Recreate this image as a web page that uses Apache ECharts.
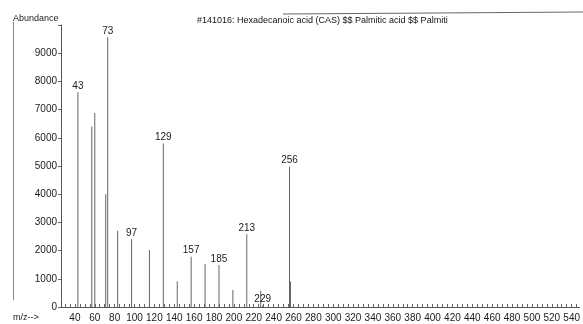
<!DOCTYPE html>
<html>
<head>
<meta charset="utf-8">
<script src="https://cdn.jsdelivr.net/npm/echarts@6/dist/echarts.min.js"></script>
<style>html,body{margin:0;padding:0;background:#fff;}#c{width:583px;height:324px;}</style>
</head>
<body>
<div id="c"></div>
<script>
const mz = [43, 57, 60, 71, 73, 83, 97, 115, 129, 143, 157, 171, 185, 199, 213, 227, 229, 256, 257];
const abundance = [7620, 6400, 6880, 4000, 9570, 2700, 2410, 2020, 5800, 900, 1785, 1525, 1490, 600, 2580, 580, 50, 4975, 900];
const labeledMz = [43, 73, 97, 129, 157, 185, 213, 229, 256];
const xTickLabels = [40, 60, 80, 100, 120, 140, 160, 180, 200, 220, 240, 260, 280, 300, 320, 340, 360, 380, 400, 420, 440, 460, 480, 500, 520, 540];
const yTickLabels = [0, 1000, 2000, 3000, 4000, 5000, 6000, 7000, 8000, 9000];
const titleText = '#141016: Hexadecanoic acid (CAS) $$ Palmitic acid $$ Palmiti';

const minorTicks = [];
for (let v = 30; v <= 545; v += 5) minorTicks.push(v);

const chart = echarts.init(document.getElementById('c'));
const FONT = '"Liberation Sans", Arial, sans-serif';
const TXT = '#1a1a1a';
const barData = mz.map((m, i) => ({
  value: [m, abundance[i]],
  label: { show: labeledMz.indexOf(m) >= 0 }
}));

chart.setOption({
  animation: false,
  backgroundColor: '#fff',
  grid: { left: 61, right: 0, top: 25, bottom: 17, containLabel: false },
  xAxis: {
    type: 'value', min: 26, max: 548,
    axisLine: { show: true, lineStyle: { color: '#555', width: 1 } },
    axisTick: { show: true, inside: true, length: 3, customValues: minorTicks, lineStyle: { color: '#666' } },
    axisLabel: { customValues: xTickLabels, color: TXT, fontSize: 10, fontFamily: FONT, margin: 6 },
    splitLine: { show: false }
  },
  yAxis: {
    type: 'value', min: 0, max: 10000, interval: 1000,
    axisLine: { show: true, lineStyle: { color: '#555', width: 1 } },
    axisTick: { show: true, length: 3, lineStyle: { color: '#666' } },
    axisLabel: {
      color: TXT, fontSize: 10, fontFamily: FONT, margin: 4,
      formatter: v => (yTickLabels.indexOf(v) >= 0 ? String(v) : '')
    },
    splitLine: { show: false }
  },
  series: [{
    type: 'bar',
    barWidth: 1,
    itemStyle: { color: '#666' },
    label: {
      position: 'top', distance: 1, color: TXT, fontSize: 10, fontFamily: FONT,
      formatter: p => String(p.value[0])
    },
    data: barData
  }],
  graphic: [
    { type: 'text', left: 13, top: 14, style: { text: 'Abundance', fontSize: 9, fontFamily: FONT, fill: TXT } },
    { type: 'text', left: 197, top: 16, style: { text: titleText, fontSize: 9, fontFamily: FONT, fill: '#111' } },
    { type: 'text', left: 13, top: 313, style: { text: 'm/z-->', fontSize: 9, fontFamily: FONT, fill: TXT } },
    { type: 'line', shape: { x1: 13.5, y1: 22, x2: 13.5, y2: 300 }, style: { stroke: '#888', lineWidth: 1 } },
    { type: 'line', shape: { x1: 283, y1: 14, x2: 583, y2: 12 }, style: { stroke: '#666', lineWidth: 1 } }
  ]
});
</script>
</body>
</html>
